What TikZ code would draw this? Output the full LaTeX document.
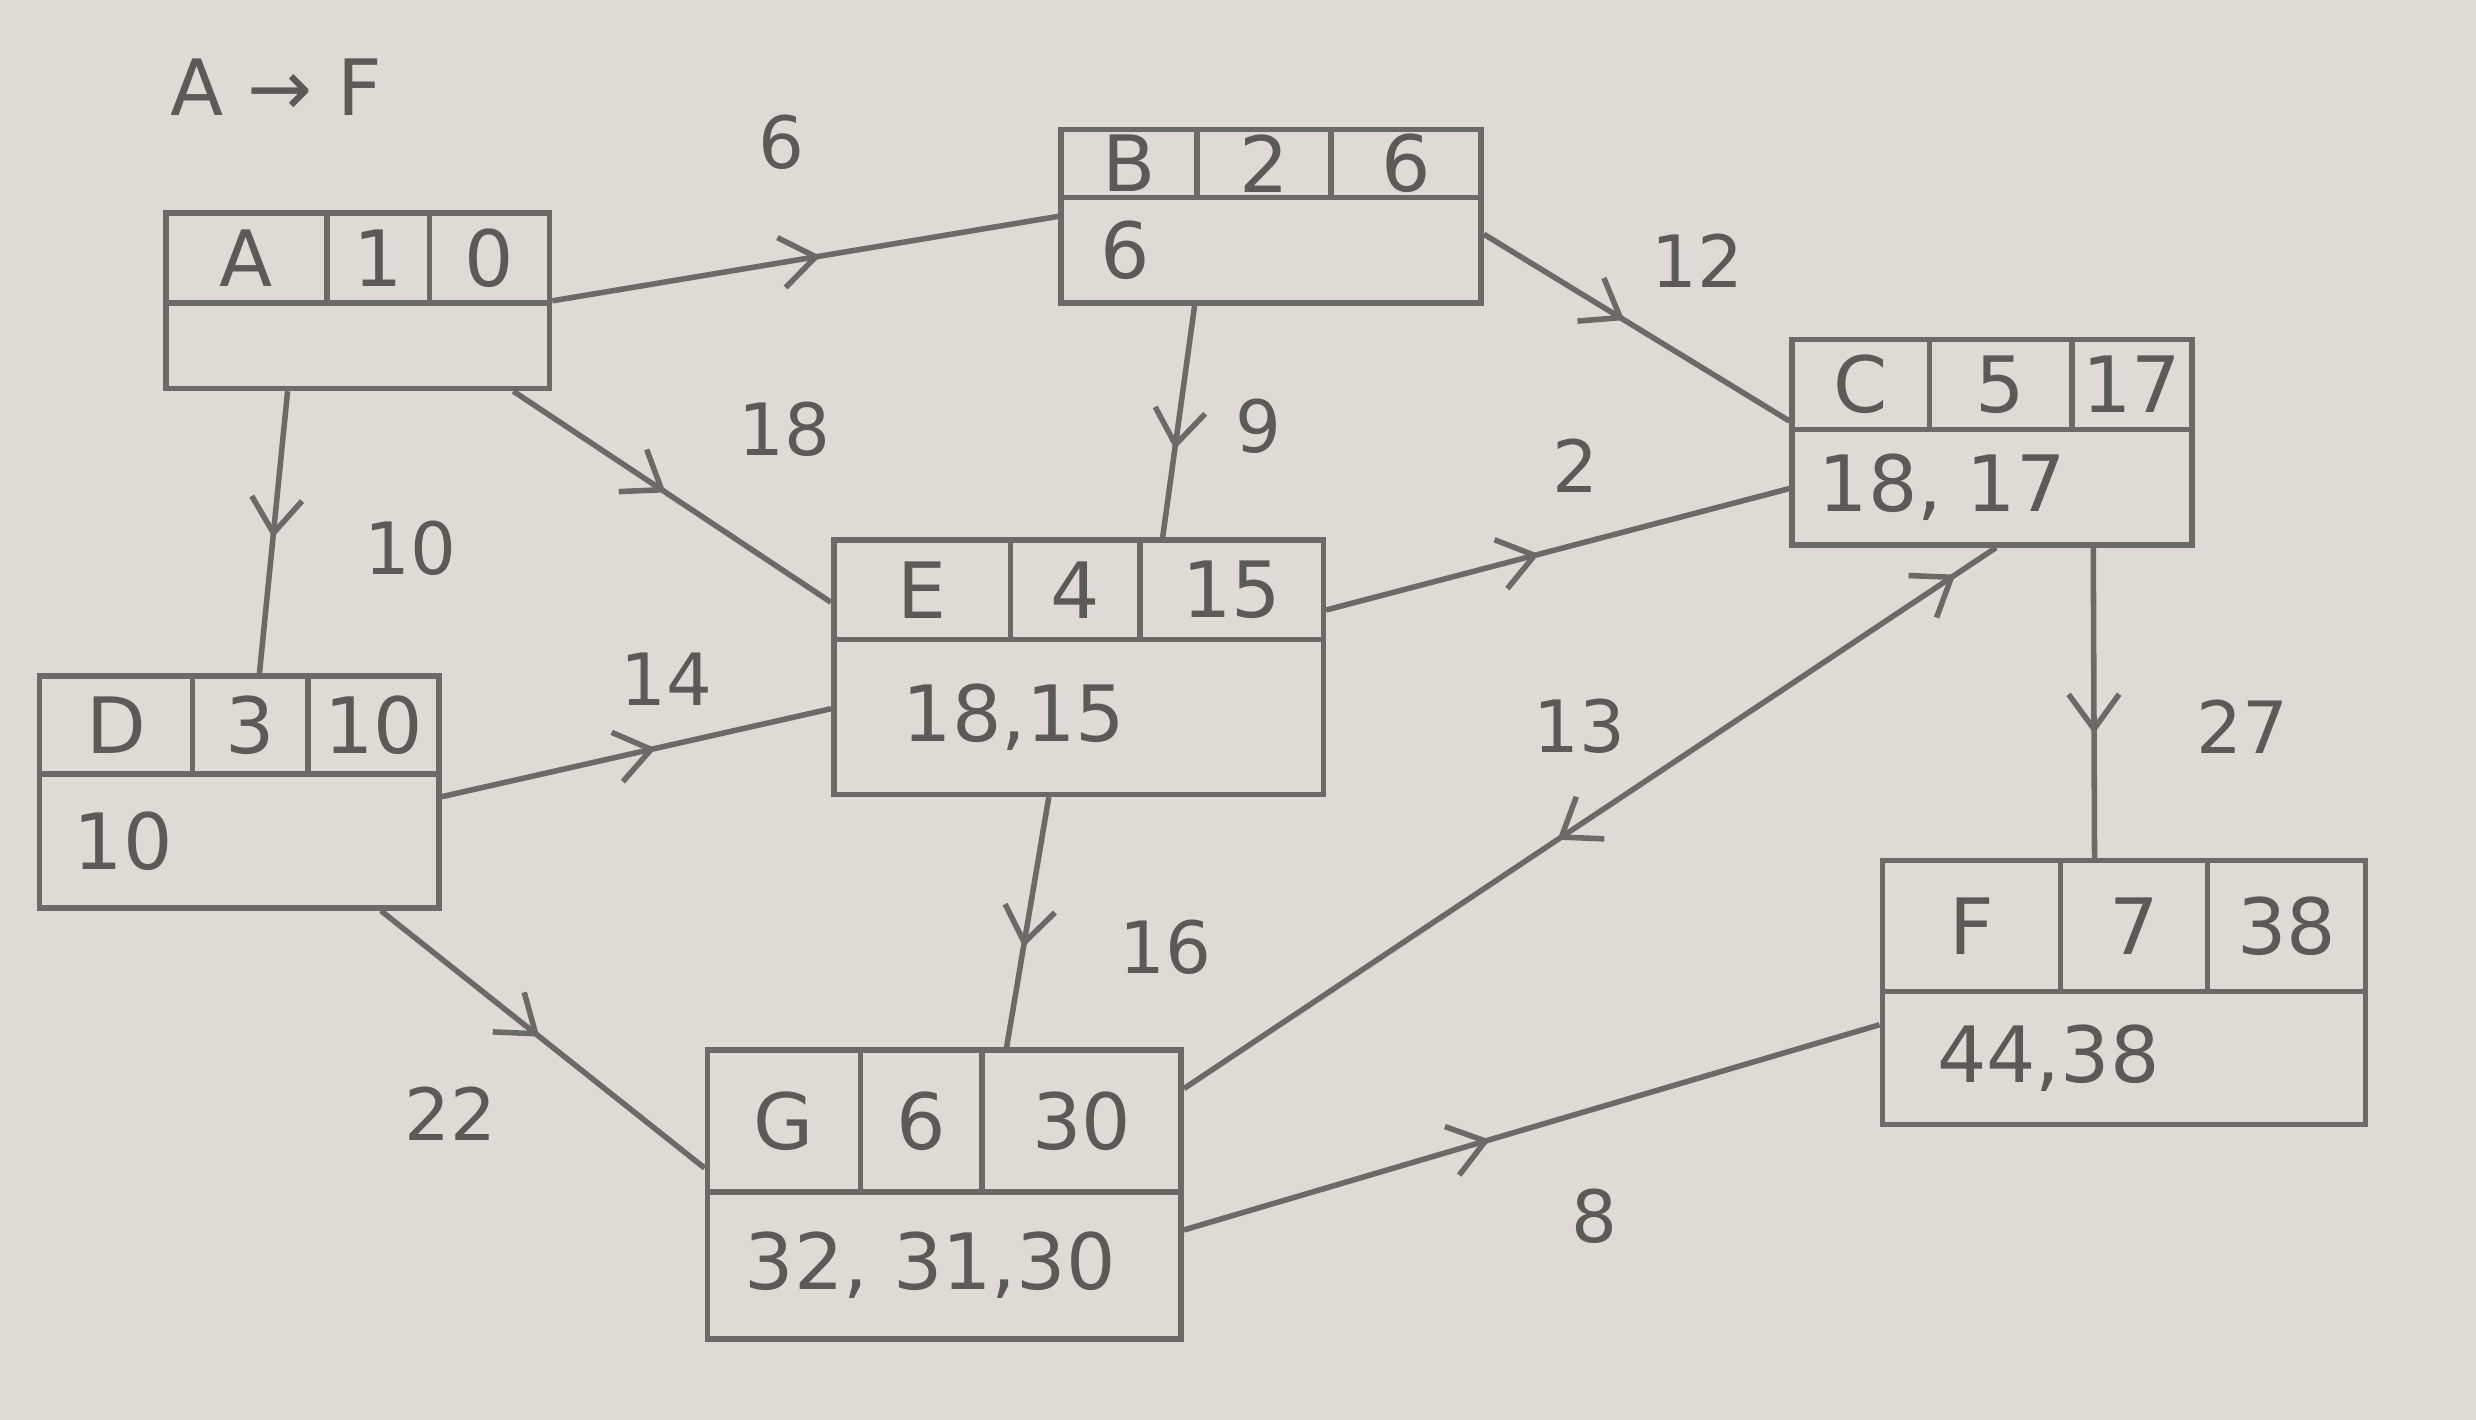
\documentclass[tikz,border=0pt]{standalone}
\usepackage{fontspec}
\setmainfont{DejaVu Sans}
\usetikzlibrary{arrows.meta,decorations.markings,fit,calc}
\definecolor{paper}{RGB}{222,219,214}
\definecolor{pencil}{RGB}{108,106,103}
\definecolor{ink}{RGB}{92,90,87}
\begin{document}
\begin{tikzpicture}[x=0.1mm,y=-0.1mm,line width=1pt,color=pencil,
  box/.style={draw,inner sep=0pt},
  cell/.style={text=ink,font=\fontsize{14}{17}\selectfont,inner sep=0pt},
  wt/.style={text=ink,font=\fontsize{13}{16}\selectfont,inner sep=0pt},
  midarrow/.style={postaction={decorate},decoration={markings,
     mark=at position #1 with {\arrow{Straight Barb[length=2.2mm,width=3.2mm]}}}},
  twoarrows/.style 2 args={postaction={decorate},decoration={markings,
     mark=at position #1 with {\arrowreversed{Straight Barb[length=2.2mm,width=3.2mm]}},
     mark=at position #2 with {\arrow{Straight Barb[length=2.2mm,width=3.2mm]}}}}]
\fill[paper] (0,0) rectangle (1568,899);
\useasboundingbox (0,0) rectangle (1568,899);

% boxes: name / x1 / y1 / x2 / y2 / ymid / div1 / div2 / t1 / t2 / t3 / bottom x / bottom text
\foreach \nm/\xa/\ya/\xb/\yb/\ym/\da/\db/\ta/\tb/\tc/\bx/\bt in {
  A/105/135/348/246/192/207/272/A/1/0/130/{},
  B/672/82/938/192/125/758/843/B/2/6/695/6,
  C/1135/215/1388/345/272/1222/1312/C/5/17/1150/{18, 17},
  E/528/342/838/503/405/640/722/E/4/15/570/{18,15},
  D/25/428/278/575/490/122/195/D/3/10/45/10,
  G/448/665/748/848/755/545/622/G/6/30/470/{32, 31,30},
  F/1192/545/1498/712/628/1305/1398/F/7/38/1225/{44,38}}{
  \node[box,fit={(\xa,\ya)(\xb,\yb)}] (\nm) {};
  \draw (\xa,\ym) -- (\xb,\ym);
  \draw (\da,\ya) -- (\da,\ym);
  \draw (\db,\ya) -- (\db,\ym);
  \node[cell] (\nm-1) at ({(\xa+\da)/2},{(\ya+\ym)/2}) {\ta};
  \node[cell] (\nm-2) at ({(\da+\db)/2},{(\ya+\ym)/2}) {\tb};
  \node[cell] (\nm-3) at ({(\db+\xb)/2},{(\ya+\ym)/2}) {\tc};
  \node[cell,anchor=west] (\nm-b) at (\bx,{(\ym+\yb)/2}) {\bt};
}

% title
\node[cell] (title) at (175,55) {A → F};

% connectors
\draw[midarrow=0.53] (A.east) -- (B.west);
\draw[midarrow=0.48] ($(A.south west)!0.9!(A.south east)$) -- ($(E.north west)!0.25!(E.south west)$);
\draw[midarrow=0.52] ($(A.south west)!0.32!(A.south east)$) -- ($(D.north west)!0.55!(D.north east)$);
\draw[midarrow=0.46] ($(B.north east)!0.6!(B.south east)$) -- ($(C.north west)!0.4!(C.south west)$);
\draw[midarrow=0.62] ($(B.south west)!0.32!(B.south east)$) -- ($(E.north west)!0.67!(E.north east)$);
\draw[midarrow=0.46] ($(E.north east)!0.28!(E.south east)$) -- ($(C.north west)!0.72!(C.south west)$);
\draw[midarrow=0.55] ($(D.north east)!0.52!(D.south east)$) -- ($(E.north west)!0.66!(E.south west)$);
\draw[midarrow=0.49] ($(D.south west)!0.85!(D.south east)$) -- ($(G.north west)!0.41!(G.south west)$);
\draw[midarrow=0.6] ($(E.south west)!0.44!(E.south east)$) -- ($(G.north west)!0.63!(G.north east)$);
\draw[twoarrows={0.46}{0.95}] ($(G.north east)!0.14!(G.south east)$) -- ($(C.south west)!0.51!(C.south east)$);
\draw[midarrow=0.6] ($(C.south west)!0.75!(C.south east)$) -- ($(F.north west)!0.44!(F.north east)$);
\draw[midarrow=0.44] ($(G.north east)!0.62!(G.south east)$) -- ($(F.north west)!0.62!(F.south west)$);

% weights
\node[wt] (w6)  at (495,90)   {6};
\node[wt] (w18) at (497,272)  {18};
\node[wt] (w10) at (260,347)  {10};
\node[wt] (w12) at (1075,165) {12};
\node[wt] (w9)  at (797,270)  {9};
\node[wt] (w2)  at (998,295)  {2};
\node[wt] (w14) at (422,430)  {14};
\node[wt] (w22) at (285,705)  {22};
\node[wt] (w16) at (738,600)  {16};
\node[wt] (w13) at (1000,460) {13};
\node[wt] (w27) at (1420,460) {27};
\node[wt] (w8)  at (1010,770) {8};
\end{tikzpicture}
\end{document}
